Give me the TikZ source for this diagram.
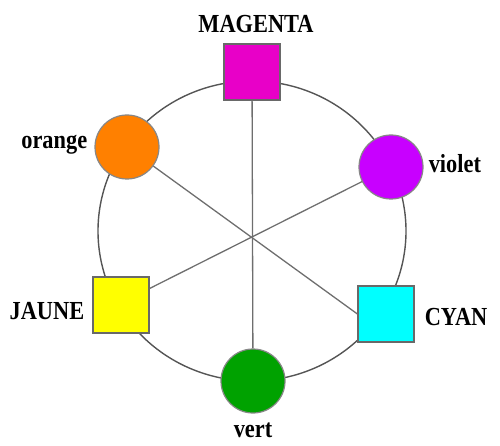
\documentclass[tikz,border=0pt]{standalone}
\usepackage{fontspec}
\usepackage{xcolor}
\usepackage{tikz}
\usetikzlibrary{positioning}
\newfontfamily\lblfont[FakeStretch=0.86]{Liberation Serif}
\definecolor{wheelgrey}{RGB}{85, 85, 85}
\definecolor{spokegrey}{RGB}{110, 110, 110}
\definecolor{rimgrey}{RGB}{105, 105, 105}
\definecolor{magentafill}{RGB}{232, 0, 200}
\definecolor{orangefill}{RGB}{255, 128, 0}
\definecolor{violetfill}{RGB}{200, 0, 255}
\definecolor{jaunefill}{RGB}{255, 255, 0}
\definecolor{cyanfill}{RGB}{0, 255, 255}
\definecolor{vertfill}{RGB}{0, 162, 0}

\begin{document}
\begin{tikzpicture}[
    x=1pt, y=-1pt,
    sqnode/.style={rectangle, draw=rimgrey, line width=1.2pt, minimum size=56pt, inner sep=0pt},
    rndnode/.style={circle, draw=rimgrey!80, line width=1.2pt, minimum size=64pt, inner sep=0pt},
    lbl/.style={font=\lblfont\fontsize{26}{26}\selectfont\bfseries, inner sep=0pt},
    spoke/.style={draw=spokegrey, line width=1.3pt},
    wheel/.style={draw=wheelgrey, line width=1.4pt}
]
\useasboundingbox (0,0) rectangle (500,446);

% Wheel
\coordinate (hub) at (252,231);
\path [wheel] (hub) ellipse [x radius=154pt, y radius=150pt];

% Nodes
\node [sqnode, fill=magentafill] (mag) at (252,72) {};
\node [rndnode, fill=orangefill] (ora) at (127,147) {};
\node [rndnode, fill=violetfill] (vio) at (391,167) {};
\node [sqnode, fill=jaunefill] (jau) at (121,305) {};
\node [sqnode, fill=cyanfill] (cya) at (386,314) {};
\node [rndnode, fill=vertfill] (ver) at (253,381) {};

% Labels
\node [lbl, above=10pt of mag, xshift=4pt] (magtxt) {MAGENTA};
\node [lbl, left=7pt of ora, yshift=2pt] (oratxt) {orange};
\node [lbl, right=5pt of vio, yshift=3pt] (viotxt) {violet};
\node [lbl, left=8pt of jau, yshift=-6pt] (jautxt) {JAUNE};
\node [lbl, right=10pt of cya, yshift=-3pt] (cyatxt) {CYAN};
\node [lbl, below=9pt of ver] (vertxt) {vert};

% Connectors
\path [spoke] (mag) -- (ver);
\path [spoke] (ora) -- (cya.west);
\path [spoke] (vio) -- (jau.30);

\end{tikzpicture}
\end{document}
